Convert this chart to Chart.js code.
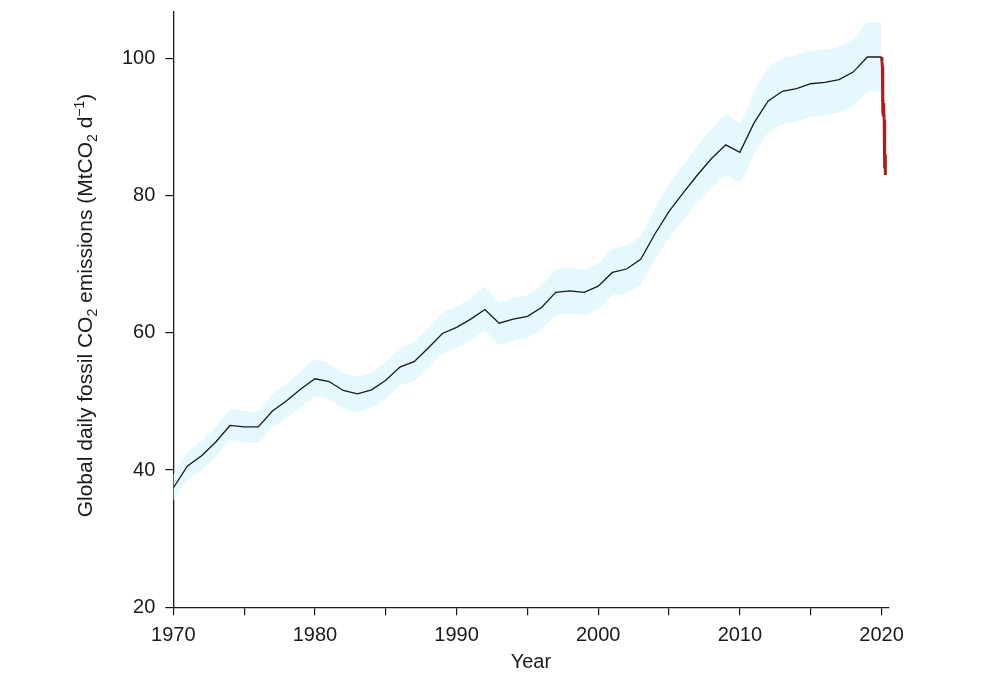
<!DOCTYPE html>
<html>
<head>
<meta charset="utf-8">
<script src="https://cdn.jsdelivr.net/npm/chart.js@4.4.1/dist/chart.umd.min.js"></script>
<style>
  body { margin: 0; background: #fff; }
  canvas { display: block; }
</style>
</head>
<body>
<canvas id="co2Chart" width="984" height="681"></canvas>
<script>
// Annual mean daily fossil CO2 emissions (MtCO2/day)
const years = [
    1970, 1971, 1972, 1973, 1974, 1975, 1976, 1977, 1978, 1979,
    1980, 1981, 1982, 1983, 1984, 1985, 1986, 1987, 1988, 1989,
    1990, 1991, 1992, 1993, 1994, 1995, 1996, 1997, 1998, 1999,
    2000, 2001, 2002, 2003, 2004, 2005, 2006, 2007, 2008, 2009,
    2010, 2011, 2012, 2013, 2014, 2015, 2016, 2017, 2018, 2019, 2020,
];
const emissions = [
    37.4, 40.6, 42.1, 44.1, 46.5, 46.3, 46.3, 48.6, 50.1, 51.8,
    53.3, 52.9, 51.6, 51.1, 51.7, 53.1, 55.0, 55.8, 57.8, 59.9,
    60.8, 62.0, 63.4, 61.4, 62.0, 62.4, 63.7, 65.9, 66.1, 65.9,
    66.8, 68.8, 69.3, 70.7, 74.4, 77.7, 80.4, 83.0, 85.4, 87.4,
    86.3, 90.6, 93.8, 95.2, 95.6, 96.3, 96.5, 96.9, 98.0, 100.2, 100.2,
];
// Uncertainty band edges
const bandLow = [
    35.5, 38.6, 40.0, 41.9, 44.2, 44.0, 44.0, 46.2, 47.6, 49.2,
    50.6, 50.3, 49.0, 48.5, 49.1, 50.4, 52.3, 53.0, 54.9, 56.9,
    57.8, 58.9, 60.2, 58.3, 58.9, 59.3, 60.5, 62.6, 62.8, 62.6,
    63.5, 65.4, 65.8, 67.2, 70.7, 73.8, 76.4, 78.9, 81.1, 83.0,
    82.0, 86.1, 89.1, 90.4, 90.8, 91.5, 91.7, 92.1, 93.1, 95.2, 95.2,
];
const bandHigh = [
    39.3, 42.6, 44.2, 46.3, 48.8, 48.6, 48.6, 51.0, 52.6, 54.4,
    56.0, 55.5, 54.2, 53.7, 54.3, 55.8, 57.8, 58.6, 60.7, 62.9,
    63.8, 65.1, 66.6, 64.5, 65.1, 65.5, 66.9, 69.2, 69.4, 69.2,
    70.1, 72.2, 72.8, 74.2, 78.1, 81.6, 84.4, 87.2, 89.7, 91.8,
    90.6, 95.1, 98.5, 100.0, 100.4, 101.1, 101.3, 101.7, 102.9, 105.2, 105.2,
];
// Daily emissions, early 2020 (fraction of year)
const dailyTime = [
    2020.00, 2020.03, 2020.06, 2020.08, 2020.09, 2020.10, 2020.12, 2020.14,
    2020.17, 2020.19, 2020.21, 2020.23, 2020.25, 2020.26, 2020.28,
];
const dailyEmissions = [
    100.2, 99.6, 98.8, 95.5, 92.0, 94.4, 91.8, 93.5,
    92.5, 91.0, 86.5, 84.0, 86.0, 83.0, 85.8,
];
const xTicks = [1970, 1975, 1980, 1985, 1990, 1995, 2000, 2005, 2010, 2015, 2020];
const yTicks = [20, 40, 60, 80, 100];

const FONT = '"Liberation Sans", Arial, Helvetica, sans-serif';
const INK = '#1a1a1a';

const toXY = (xs, ys) => xs.map((x, i) => ({ x, y: ys[i] }));

// Y axis title with sub/superscripts
const yTitlePlugin = {
    id: 'yTitle',
    afterDraw(chart) {
        const { ctx, chartArea } = chart;
        const parts = [
            ['Global daily fossil CO', 0], ['2', 1], [' emissions (MtCO', 0],
            ['2', 1], [' d', 0], ['\u22121', -1], [')', 0],
        ];
        const size = 21;
        const small = 14;
        ctx.save();
        ctx.fillStyle = INK;
        ctx.textBaseline = 'alphabetic';
        let total = 0;
        parts.forEach(([t, k]) => {
            ctx.font = `${k ? small : size}px ${FONT}`;
            total += ctx.measureText(t).width;
        });
        ctx.translate(92, (chartArea.top + chartArea.bottom) / 2 - 4);
        ctx.rotate(-Math.PI / 2);
        let x = -total / 2;
        parts.forEach(([t, k]) => {
            ctx.font = `${k ? small : size}px ${FONT}`;
            const dy = k === 1 ? 5 : k === -1 ? -8 : 0;
            ctx.fillText(t, x, dy);
            x += ctx.measureText(t).width;
        });
        ctx.restore();
    },
};

const ctx = document.getElementById('co2Chart').getContext('2d');

const chart = new Chart(ctx, {
    type: 'line',
    data: {
        datasets: [
            {
                label: 'Daily 2020',
                data: toXY(dailyTime, dailyEmissions),
                borderColor: '#b01c1c',
                borderWidth: 3,
                pointRadius: 0,
                fill: false,
            },
            {
                label: 'Annual mean',
                data: toXY(years, emissions),
                borderColor: INK,
                borderWidth: 1.3,
                pointRadius: 0,
                fill: false,
            },
            {
                label: 'Upper',
                data: toXY(years, bandHigh),
                borderWidth: 0,
                borderColor: 'rgba(0,0,0,0)',
                backgroundColor: 'rgb(228, 248, 253)',
                pointRadius: 0,
                tension: 0.25,
                fill: '+1',
            },
            {
                label: 'Lower',
                data: toXY(years, bandLow),
                borderWidth: 0,
                borderColor: 'rgba(0,0,0,0)',
                pointRadius: 0,
                tension: 0.25,
                fill: false,
            },
        ],
    },
    options: {
        responsive: false,
        animation: false,
        layout: { padding: { left: 0, right: 95.4, top: 11.7, bottom: 0 } },
        plugins: {
            legend: { display: false },
            tooltip: { enabled: false },
        },
        scales: {
            x: {
                type: 'linear',
                min: 1970,
                max: 2020.5,
                afterBuildTicks: (scale) => { scale.ticks = xTicks.map((v) => ({ value: v })); },
                afterFit: (scale) => { scale.height = 73.7; },
                ticks: {
                    autoSkip: false,
                    maxRotation: 0,
                    padding: 8,
                    color: INK,
                    font: { family: FONT, size: 20 },
                    callback: (v) => (v % 10 === 0 ? String(v) : ''),
                },
                grid: { drawOnChartArea: false, drawTicks: true, tickLength: 8, color: INK, lineWidth: 1.2 },
                border: { display: true, color: INK, width: 1.3 },
                title: {
                    display: true,
                    text: 'Year',
                    color: INK,
                    font: { family: FONT, size: 20 },
                    padding: { top: 0, bottom: 7 },
                },
            },
            y: {
                type: 'linear',
                min: 20,
                max: 106.8,
                afterBuildTicks: (scale) => { scale.ticks = yTicks.map((v) => ({ value: v })); },
                afterFit: (scale) => {
                    scale.width = 173.3;
                    scale.paddingTop = 0;
                    scale.paddingBottom = 0;
                },
                ticks: {
                    padding: 10,
                    color: INK,
                    font: { family: FONT, size: 20 },
                },
                grid: { drawOnChartArea: false, drawTicks: true, tickLength: 8, color: INK, lineWidth: 1.2 },
                border: { display: true, color: INK, width: 1.3 },
            },
        },
    },
    plugins: [yTitlePlugin],
});
</script>
</body>
</html>
